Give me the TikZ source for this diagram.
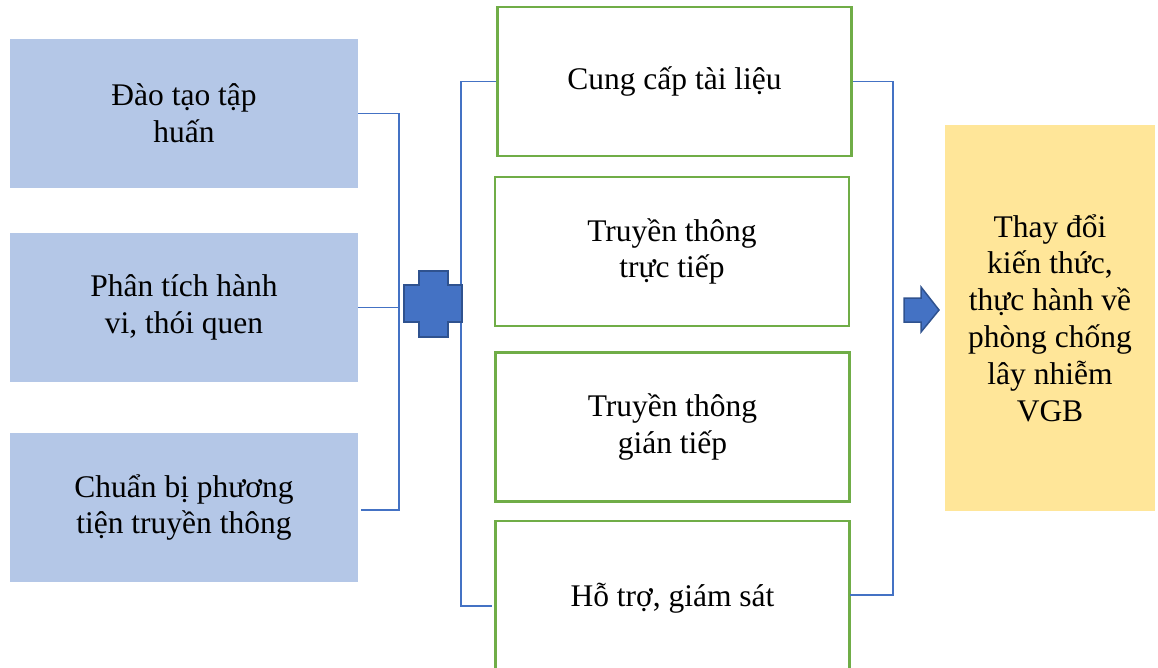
\documentclass[tikz,border=0pt]{standalone}
\usepackage{fontspec}
\setmainfont{Liberation Serif}
\definecolor{leftfill}{HTML}{B4C7E7}
\definecolor{midline}{HTML}{70AD47}
\definecolor{resfill}{HTML}{FFE699}
\definecolor{accent}{HTML}{4472C4}
\definecolor{accentdark}{HTML}{2F528F}
\begin{document}
\begin{tikzpicture}[x=1pt,y=-1pt,
  txt/.style={font=\fontsize{31.5}{36.8}\selectfont, align=center, inner sep=0pt},
  leftbox/.style={txt, fill=leftfill, minimum width=348pt, minimum height=149pt},
  midbox/.style={txt, draw=midline, line width=2.5pt, fill=white, minimum width=354pt, minimum height=149pt},
  resbox/.style={txt, fill=resfill, minimum width=210pt, minimum height=386pt},
  conn/.style={draw=accent, line width=1.2pt},
  blockshape/.style={fill=accent, draw=accentdark, line width=1.5pt, line join=miter}]
\useasboundingbox (0,0) rectangle (1158,668);
\clip (0,0) rectangle (1158,668);

% preparation steps
\node[leftbox] (b1) at (184,113.5) {Đào tạo tập\\huấn};
\node[leftbox] (b2) at (184,307.5) {Phân tích hành\\vi, thói quen};
\node[leftbox] (b3) at (184,507.5) {Chuẩn bị phương\\tiện truyền thông};

% intervention activities
\node[midbox] (m1) at (674.5,81.5) {Cung cấp tài liệu};
\node[midbox] (m2) at (672,251.5) {Truyền thông\\trực tiếp};
\node[midbox] (m3) at (672.5,427) {Truyền thông\\gián tiếp};
\node[midbox, minimum height=155pt] (m4) at (672.5,598.5) {Hỗ trợ, giám sát};

% outcome
\node[resbox] (r) at (1050,318) {Thay đổi\\kiến thức,\\thực hành về\\phòng chống\\lây nhiễm\\VGB};

% left bracket
\coordinate (lbot) at (399,510);
\coordinate (lend) at (361,510);
\draw[conn] (b1.east) -| (lbot) -- (lend);
\draw[conn] (b2.east) -- (b2.east -| lbot);

% middle bracket
\coordinate (mtop) at (461,81.5);
\coordinate (mbot) at (461,606);
\coordinate (mend) at (492,606);
\draw[conn] (m1.west) -- (mtop) -- (mbot) -- (mend);

% right bracket
\coordinate (rtop) at (893,81.5);
\coordinate (rbot) at (893,595);
\coordinate (rend) at (850,595);
\draw[conn] (m1.east) -- (rtop) -- (rbot) -- (rend);

% plus sign
\path[blockshape] (419,271) -- (448,271) -- (448,285) -- (462,285) -- (462,322)
  -- (448,322) -- (448,337) -- (419,337) -- (419,322) -- (404,322) -- (404,285)
  -- (419,285) -- cycle;

% block arrow
\path[blockshape] (904,298) -- (921,298) -- (921,287) -- (939,310) -- (921,332)
  -- (921,322) -- (904,322) -- cycle;
\end{tikzpicture}
\end{document}
